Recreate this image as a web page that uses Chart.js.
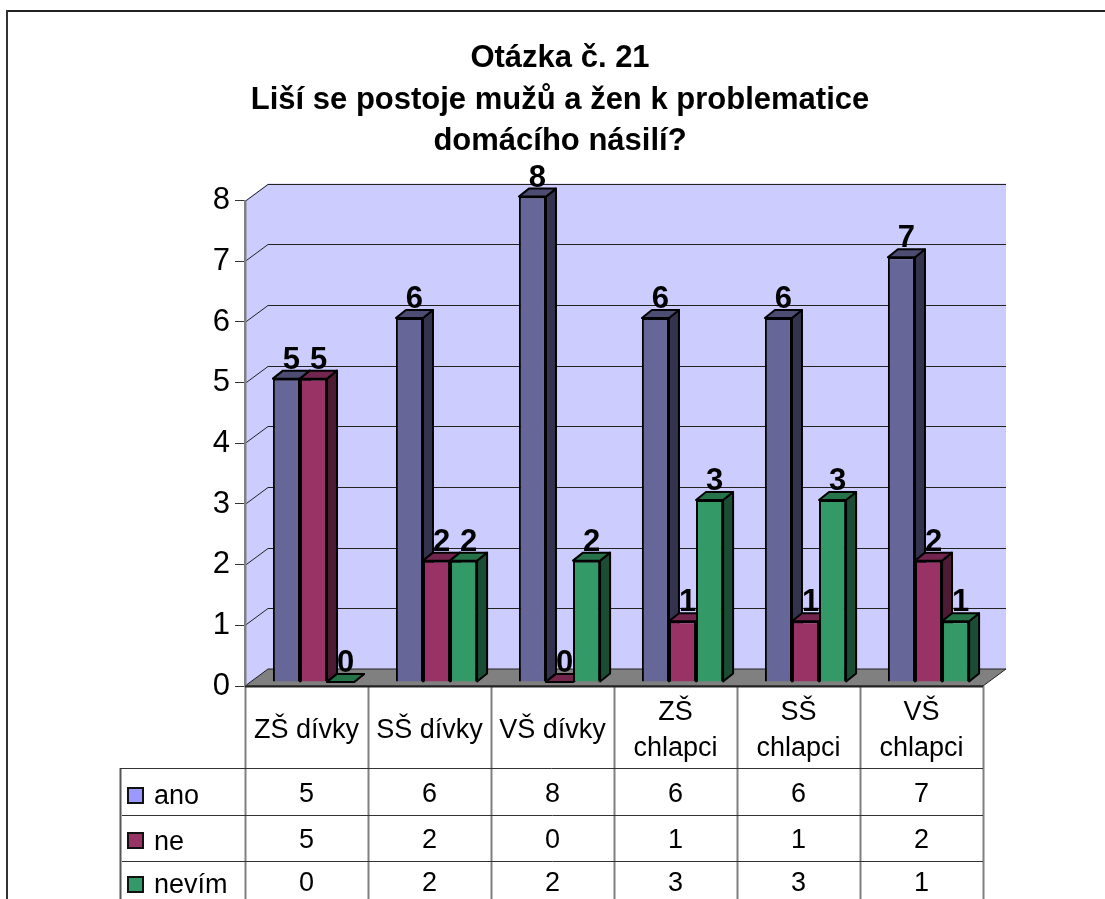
<!DOCTYPE html>
<html>
<head>
<meta charset="utf-8">
<title>Otázka č. 21</title>
<script src="https://cdn.jsdelivr.net/npm/chart.js@4"></script>
<style>
  html, body { margin: 0; padding: 0; background: #fff; overflow: hidden; }
  #wrap { width: 1105px; height: 899px; }
</style>
</head>
<body>
<div id="wrap"><canvas id="chart" width="1105" height="899"></canvas></div>
<script>
const titleLines = ['Otázka č. 21', 'Liší se postoje mužů a žen k problematice', 'domácího násilí?'];
const categories = ['ZŠ dívky', 'SŠ dívky', 'VŠ dívky', ['ZŠ', 'chlapci'], ['SŠ', 'chlapci'], ['VŠ', 'chlapci']];
const yTicks = [0, 1, 2, 3, 4, 5, 6, 7, 8];
const ano = [5, 6, 8, 6, 6, 7];
const ne = [5, 2, 0, 1, 1, 2];
const nevim = [0, 2, 2, 3, 3, 1];
const seriesNames = ['ano', 'ne', 'nevím'];

const FONT = '"Liberation Sans", Arial, sans-serif';
// barvy: celo, bok, vrsek, klic v legende
const faceColors = ['#666699', '#993366', '#339966'];
const sideColors = ['#33334d', '#4d1a33', '#1a4d33'];
const topColors = ['#4d4d73', '#73264d', '#267349'];
const keyColors = ['#9999ff', '#993366', '#339966'];

// hloubka steny a sloupcu v pixelech
const WALL_DX = 23, WALL_DY = 17;
const BAR_DX = 10, BAR_DY = 8;
const SHIFT_X = 7, SHIFT_Y = -4;

function poly(ctx, pts, fill, stroke, lw) {
  ctx.beginPath();
  pts.forEach((p, i) => i ? ctx.lineTo(p[0], p[1]) : ctx.moveTo(p[0], p[1]));
  ctx.closePath();
  if (fill) { ctx.fillStyle = fill; ctx.fill(); }
  if (stroke) { ctx.strokeStyle = stroke; ctx.lineWidth = lw || 1; ctx.stroke(); }
}

function hline(ctx, x1, y1, x2, y2, color, lw) {
  ctx.beginPath();
  ctx.moveTo(x1, y1);
  ctx.lineTo(x2, y2);
  ctx.strokeStyle = color;
  ctx.lineWidth = lw || 1;
  ctx.stroke();
}

// zadni stena, podlaha, mrizka a ramecek obrazku
const wallPlugin = {
  id: 'wall',
  beforeDraw(chart) {
    const { ctx, chartArea: a, scales: { y } } = chart;
    ctx.save();
    // ramecek je videt jen nahore a vlevo
    hline(ctx, 6, 11, 1105, 11, '#222', 2);
    hline(ctx, 7, 10, 7, 899, '#333', 2);

    const top = y.getPixelForValue(8), bot = y.getPixelForValue(0);
    poly(ctx, [[a.left, top], [a.left + WALL_DX, top - WALL_DY], [a.right + WALL_DX, top - WALL_DY],
      [a.right + WALL_DX, bot - WALL_DY], [a.left, bot]], '#ccccff');
    yTicks.forEach(v => {
      const py = Math.round(y.getPixelForValue(v)) + 0.5;
      if (v > 0) {
        hline(ctx, a.left, py, a.left + WALL_DX, py - WALL_DY, '#222');
        hline(ctx, a.left + WALL_DX, py - WALL_DY, a.right + WALL_DX, py - WALL_DY, '#222');
      }
    });
    poly(ctx, [[a.left, bot], [a.left + WALL_DX, bot - WALL_DY], [a.right + WALL_DX, bot - WALL_DY], [a.right, bot]], '#808080', '#222');
    hline(ctx, a.left + 0.5, top, a.left + 0.5, bot, '#808080', 2);
    ctx.restore();
  }
};

// boky a vrsky se kresli pred cely, aby je sousedni sloupec prekryl
const barPlugin = {
  id: 'bars3d',
  beforeDatasetsDraw(chart) {
    const ctx = chart.ctx;
    ctx.save();
    ctx.translate(SHIFT_X, SHIFT_Y);
    ctx.lineJoin = 'round';
    chart.data.datasets.forEach((ds, i) => {
      chart.getDatasetMeta(i).data.forEach(bar => {
        const l = bar.x - bar.width / 2, r = bar.x + bar.width / 2;
        poly(ctx, [[r, bar.y], [r + BAR_DX, bar.y - BAR_DY], [r + BAR_DX, bar.base - BAR_DY], [r, bar.base]], sideColors[i], '#000', 2);
        poly(ctx, [[l, bar.y], [l + BAR_DX, bar.y - BAR_DY], [r + BAR_DX, bar.y - BAR_DY], [r, bar.y]], topColors[i], '#000', 2);
      });
    });
  },
  afterDatasetsDraw(chart) {
    const ctx = chart.ctx;
    ctx.restore();
    // popisky hodnot nad sloupci
    ctx.save();
    ctx.font = 'bold 31px ' + FONT;
    ctx.fillStyle = '#000';
    ctx.textAlign = 'center';
    ctx.textBaseline = 'alphabetic';
    chart.data.datasets.forEach((ds, i) => {
      chart.getDatasetMeta(i).data.forEach((bar, j) => {
        ctx.fillText(String(ds.data[j]), bar.x + SHIFT_X + 5, bar.y + SHIFT_Y - 10);
      });
    });
    ctx.restore();
  }
};

// datova tabulka pod grafem
const tablePlugin = {
  id: 'dataTable',
  afterDraw(chart) {
    const { ctx, chartArea: a, scales: { x } } = chart;
    const rowLines = [768, 815, 861];
    const rowText = [795, 841, 884];
    const keyY = [788, 833, 877];
    const colW = x.getPixelForTick(1) - x.getPixelForTick(0);
    ctx.save();
    categories.forEach((c, i) => {
      const px = Math.round(x.getPixelForTick(i) - colW / 2) + 0.5;
      hline(ctx, px, a.bottom, px, 899, '#808080', 2);
    });
    const rx = Math.round(a.right) + 0.5;
    hline(ctx, rx, a.bottom, rx, 899, '#808080', 2);
    hline(ctx, 120.5, 768, 120.5, 899, '#555', 2);
    hline(ctx, a.left, 686.5, a.right, 686.5, '#222', 2);
    rowLines.forEach((ry, r) => hline(ctx, r ? 122 : 120, ry + 0.5, a.right, ry + 0.5, '#333'));

    ctx.font = '27px ' + FONT;
    ctx.fillStyle = '#000';
    ctx.textBaseline = 'middle';
    chart.data.datasets.forEach((ds, i) => {
      ctx.fillStyle = keyColors[i];
      ctx.strokeStyle = '#111';
      ctx.lineWidth = 2;
      ctx.fillRect(128, keyY[i], 15, 15);
      ctx.strokeRect(128, keyY[i], 15, 15);
      ctx.fillStyle = '#000';
      ctx.textAlign = 'left';
      ctx.fillText(ds.label, 154, rowText[i] + 2);
      ctx.textAlign = 'center';
      ds.data.forEach((v, j) => ctx.fillText(String(v), x.getPixelForTick(j), rowText[i]));
    });
    ctx.restore();
  }
};

const seriesValues = [ano, ne, nevim];

new Chart(document.getElementById('chart'), {
  type: 'bar',
  data: {
    labels: categories,
    datasets: seriesNames.map((name, i) => ({
      label: name,
      data: seriesValues[i],
      backgroundColor: faceColors[i],
      borderColor: '#000',
      borderWidth: 2,
      clip: false
    }))
  },
  plugins: [wallPlugin, barPlugin, tablePlugin],
  options: {
    responsive: false,
    animation: false,
    events: [],
    barPercentage: 1,
    categoryPercentage: 0.66,
    layout: { padding: { left: 137, right: 122, top: 38, bottom: 0 } },
    plugins: {
      legend: { display: false },
      tooltip: { enabled: false },
      title: {
        display: true,
        text: titleLines,
        color: '#000',
        font: { family: FONT, size: 31, weight: 'bold', lineHeight: 1.34 },
        padding: { top: 0, bottom: 38 }
      }
    },
    scales: {
      x: {
        grid: { display: false },
        border: { display: false },
        afterFit(scale) { scale.height = 213; },
        ticks: {
          autoSkip: false,
          maxRotation: 0,
          minRotation: 0,
          crossAlign: 'center',
          padding: 19,
          color: '#000',
          font: { family: FONT, size: 27, lineHeight: 1.3 }
        }
      },
      y: {
        min: 0,
        max: 8,
        afterFit(scale) { scale.width = 108; },
        border: { color: '#808080', width: 2 },
        grid: { drawOnChartArea: false, tickLength: 10, color: '#333' },
        ticks: {
          stepSize: 1,
          padding: 5,
          color: '#000',
          font: { family: FONT, size: 31 }
        }
      }
    }
  }
});
</script>
</body>
</html>
